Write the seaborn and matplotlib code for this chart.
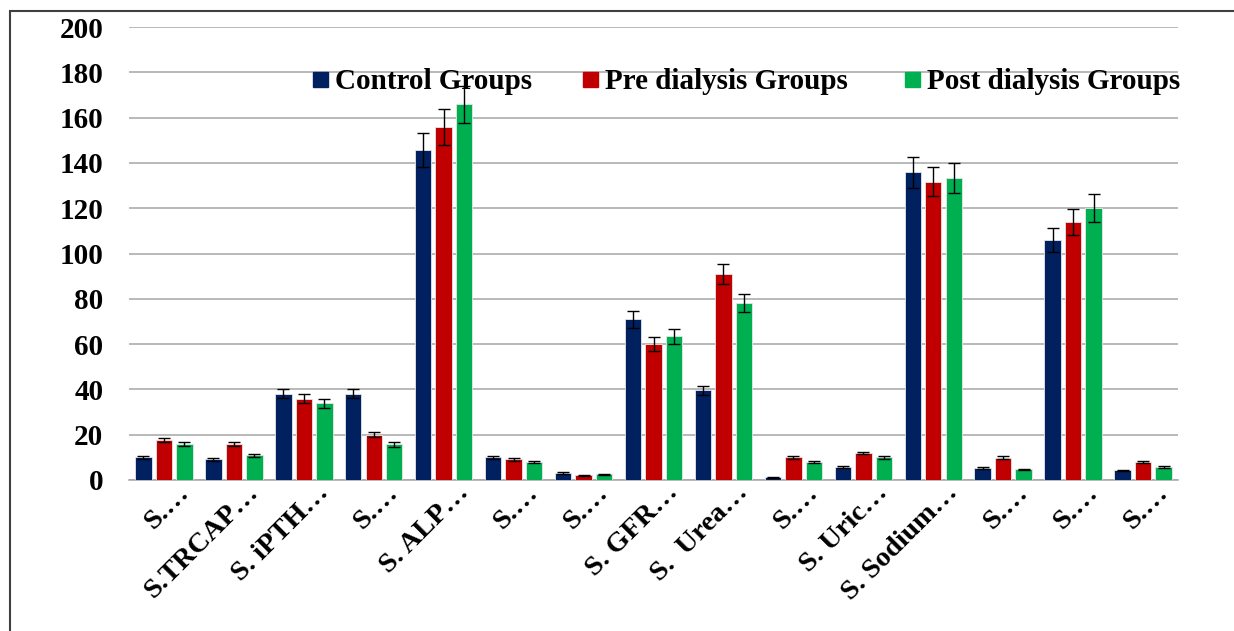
import numpy as np
import pandas as pd
import matplotlib
matplotlib.use("Agg")
import matplotlib.pyplot as plt
import matplotlib.transforms as mtransforms
from matplotlib.lines import Line2D
from matplotlib.patches import Rectangle
import seaborn as sns

# ---------------- data ----------------
tick_labels = ["S.\u2026", "S.TRCAP\u2026", "S. iPTH\u2026", "S.\u2026", "S. ALP\u2026",
               "S.\u2026", "S.\u2026", "S. GFR\u2026", "S.  Urea\u2026", "S.\u2026",
               "S. Uric\u2026", "S. Sodium\u2026", "S.\u2026", "S.\u2026", "S.\u2026"]
groups = ["Control Groups", "Pre dialysis Groups", "Post dialysis Groups"]

control = [10.0, 9.1, 38.0, 38.0, 145.7, 10.0, 3.1, 70.9, 39.7, 1.3, 5.9, 135.8, 5.2, 106.0, 4.3]
pre     = [17.8, 15.9, 35.8, 20.0, 155.8, 9.1, 2.0, 60.0, 91.0, 10.0, 11.9, 131.7, 9.9, 113.8, 7.8]
post    = [15.9, 10.9, 33.8, 15.7, 165.9, 8.0, 2.5, 63.4, 78.0, 7.9, 10.0, 133.2, 4.7, 120.0, 5.7]

control_err = [0.7, 0.6, 2.0, 2.0, 7.3, 0.7, 0.3, 3.6, 2.0, 0.2, 0.4, 6.8, 0.4, 5.4, 0.3]
pre_err     = [0.9, 0.8, 2.0, 1.0, 7.8, 0.5, 0.2, 3.0, 4.5, 0.6, 0.6, 6.5, 0.6, 5.7, 0.4]
post_err    = [0.8, 0.6, 2.0, 1.0, 8.2, 0.5, 0.2, 3.2, 3.9, 0.5, 0.6, 6.6, 0.3, 6.1, 0.3]

colors = ["#002060", "#C00000", "#00B050"]

values = [control, pre, post]
errors = [control_err, pre_err, post_err]

df = pd.DataFrame({
    "param": np.tile(np.arange(len(tick_labels)), 3),
    "group": np.repeat(groups, len(tick_labels)),
    "value": np.concatenate(values),
})

# ---------------- figure ----------------
sns.set_theme(style="white")
plt.rcParams["font.family"] = ["Liberation Serif", "DejaVu Serif"]
plt.rcParams["font.weight"] = "bold"
plt.rcParams["text.color"] = "black"
plt.rcParams["xtick.color"] = "black"
plt.rcParams["ytick.color"] = "black"
plt.rcParams["axes.labelcolor"] = "black"

W, H = 1234, 631
fig = plt.figure(figsize=(W / 100, H / 100), dpi=100)
ax = fig.add_axes([129 / W, 1 - 480 / H, (1178 - 129) / W, (480 - 27) / H])

sns.barplot(data=df, x="param", y="value", hue="group", hue_order=groups,
            palette=colors, saturation=1, errorbar=None, width=0.88, gap=0.2,
            edgecolor="#e6e6e6", linewidth=0.6, ax=ax, legend=False, zorder=3)

# error bars at the centres of the bars seaborn drew
for cont, errs in zip(ax.containers, errors):
    xs = [p.get_x() + p.get_width() / 2 for p in cont.patches]
    ys = [p.get_height() for p in cont.patches]
    ax.errorbar(xs, ys, yerr=errs, fmt="none", ecolor="black",
                elinewidth=1.0, capsize=4.2, capthick=1.0, zorder=5)

ax.set_ylim(0, 200)
ax.set_yticks(np.arange(0, 201, 20))
ax.set_xlim(-0.5, len(tick_labels) - 0.5)
ax.yaxis.grid(True, color="#A6A6A6", linewidth=1.1, zorder=0)
ax.xaxis.grid(False)
ax.set_axisbelow(True)
for s in ["left", "right", "top"]:
    ax.spines[s].set_visible(False)
ax.spines["bottom"].set_color("#A6A6A6")
ax.spines["bottom"].set_linewidth(1.1)
ax.set_xlabel("")
ax.set_ylabel("")

ax.tick_params(axis="y", length=0, pad=18.5, labelsize=21, labelcolor="black")
ax.tick_params(axis="x", length=0, pad=2, labelsize=20.5, labelcolor="black")
for t in ax.get_yticklabels():
    t.set_fontweight("bold")

ax.set_xticks(range(len(tick_labels)))
ax.set_xticklabels(tick_labels, rotation=45, ha="right", va="center",
                   rotation_mode="anchor", fontweight="bold", color="black")
offset = mtransforms.ScaledTranslation(21 / 100, -6 / 100, fig.dpi_scale_trans)
for t in ax.get_xticklabels():
    t.set_transform(t.get_transform() + offset)

# legend: three entries placed like the original
legend_x = [312, 582, 904]
for lx, c, g in zip(legend_x, colors, groups):
    h = Line2D([0], [0], marker="s", linestyle="none", markersize=10.8,
               markerfacecolor=c, markeredgecolor=c)
    leg = fig.legend([h], [g], loc="center left",
                     bbox_to_anchor=(lx / W, 1 - 81.5 / H), frameon=False,
                     prop={"family": "Liberation Serif", "weight": "bold", "size": 21},
                     handlelength=0.55, handletextpad=0.25,
                     borderpad=0, borderaxespad=0)
    for t in leg.get_texts():
        t.set_color("black")

# outer frame of the original chart area
fig.patches.append(Rectangle((10 / W, -0.05), 1.2, 1 - 11 / H + 0.05,
                             transform=fig.transFigure, fill=False,
                             edgecolor="#404040", linewidth=1.5))

fig.savefig("out.png", dpi=100)
